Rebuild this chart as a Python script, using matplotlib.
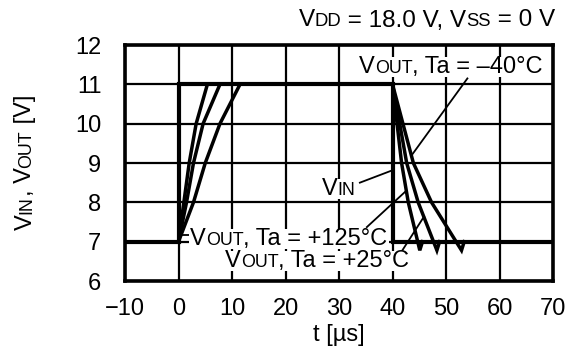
import matplotlib
matplotlib.use("Agg")
import matplotlib.pyplot as plt
from matplotlib.patches import Rectangle

plt.rcParams['font.family'] = ['Liberation Sans', 'DejaVu Sans']

# ---------------- data ----------------
vin_t = [-10, 0, 0, 40, 40, 70]
vin_v = [7, 7, 11, 11, 7, 7]

rise_v = [7, 8, 9, 10, 11]
rise_fast_t = [0, 1.0, 2.0, 3.3, 5.4]
rise_mid_t = [0, 1.5, 2.8, 4.6, 7.75]
rise_slow_t = [0, 2.8, 5.0, 7.75, 11.5]

fall_v = [11, 10, 9, 8, 6.78, 7.0]
fall_fast_t = [40, 40.85, 41.7, 42.95, 45.1, 45.6]
fall_mid_t = [40, 41.35, 42.65, 44.8, 48.3, 48.8]
fall_slow_t = [40, 41.95, 43.9, 47.3, 52.9, 53.4]

xticks = [-10, 0, 10, 20, 30, 40, 50, 60, 70]
xticklabels = ['\u221210', '0', '10', '20', '30', '40', '50', '60', '70']
yticks = [6, 7, 8, 9, 10, 11, 12]

# annotation leader lines (t, V)
lead_m40 = ([54.0, 43.6], [11.15, 9.2])
lead_vin = ([33.9, 39.7], [8.5, 8.8])
lead_125 = ([35.2, 42.3], [7.37, 8.26])
lead_125b = ([0.3, 2.1], [7.17, 7.17])
lead_25 = ([41.7, 45.9], [6.75, 7.64])

FS = 17
W, H = 584, 355
fig = plt.figure(figsize=(W / 100, H / 100), dpi=100)
ax = fig.add_axes([125 / W, 1 - 281 / H, (553 - 125) / W, (281 - 45) / H])

ax.set_xlim(-10, 70)
ax.set_ylim(6, 12)
ax.set_xticks(xticks)
ax.set_xticklabels(xticklabels)
ax.set_yticks(yticks)
ax.tick_params(length=0, labelsize=FS, colors='black')
ax.tick_params(axis='y', pad=17)
ax.tick_params(axis='x', pad=12)
ax.grid(True, color='black', linewidth=1.6)
ax.set_axisbelow(True)
for s in ax.spines.values():
    s.set_linewidth(2.6)
    s.set_zorder(5)

lw = 2.5
for tt in (rise_fast_t, rise_mid_t, rise_slow_t):
    ax.plot(tt, rise_v, color='black', lw=lw, solid_joinstyle='round', zorder=3)
for tt in (fall_fast_t, fall_mid_t, fall_slow_t):
    ax.plot(tt, fall_v, color='black', lw=lw, solid_joinstyle='miter', zorder=3)
ax.plot(vin_t, vin_v, color='black', lw=3.0, solid_joinstyle='miter', zorder=4)

for lx, ly in (lead_m40, lead_vin, lead_125, lead_125b, lead_25):
    ax.plot(lx, ly, color='black', lw=1.3, zorder=3)

ax.set_xlabel('t [\u00b5s]', fontsize=FS, labelpad=3)

renderer = fig.canvas.get_renderer()


def width_px(s, size):
    t1 = fig.text(0, 0, '|' + s + '|', fontsize=size)
    t2 = fig.text(0, 0, '||', fontsize=size)
    w = t1.get_window_extent(renderer).width - t2.get_window_extent(renderer).width
    t1.remove()
    t2.remove()
    return w


def rich(xpx, ypx, pieces, size=FS, ha='left', rotation=0, box=False):
    """xpx, ypx: pixel coords from top-left; baseline anchor."""
    widths = [width_px(s, size * sc) for s, sc in pieces]
    total = sum(widths)
    if ha == 'right':
        off = -total
    elif ha == 'center':
        off = -total / 2
    else:
        off = 0
    pos = off
    texts = []
    for (s, sc), w in zip(pieces, widths):
        if rotation == 90:
            x, y = xpx, ypx - pos
        else:
            x, y = xpx + pos, ypx
        t = fig.text(x / W, 1 - y / H, s, fontsize=size * sc, ha='left',
                     va='baseline', rotation=rotation, rotation_mode='anchor',
                     zorder=3)
        texts.append(t)
        pos += w
    if box:
        exts = [t.get_window_extent(renderer) for t in texts]
        x0 = min(e.x0 for e in exts) - 1
        x1 = max(e.x1 for e in exts) + 1
        y0 = min(e.y0 for e in exts) + 1
        y1 = max(e.y1 for e in exts) - 1
        fig.patches.append(Rectangle((x0 / W, y0 / H), (x1 - x0) / W, (y1 - y0) / H,
                                     transform=fig.transFigure, facecolor='white',
                                     edgecolor='none', zorder=2))


def data_px(t, v):
    d = ax.transData.transform((t, v))
    return d[0], H - d[1]


SC = 0.76
x, y = data_px(68.1, 11.28)
rich(x, y, [('V', 1), ('OUT', SC), (', Ta = \u201340\u00b0C', 1)], ha='right', box=True)
x, y = data_px(26.8, 8.19)
rich(x, y, [('V', 1), ('IN', SC)], box=True)
x, y = data_px(2.15, 6.92)
rich(x, y, [('V', 1), ('OUT', SC), (', Ta = +125\u00b0C', 1)], box=True)
x, y = data_px(8.7, 6.36)
rich(x, y, [('V', 1), ('OUT', SC), (', Ta = +25\u00b0C', 1)], box=True)

rich(555, 26.5, [('V', 1), ('DD', SC), (' = 18.0 V, V', 1), ('SS', SC), (' = 0 V', 1)],
     size=17.5, ha='right')

rich(31.5, 230, [('V', 1), ('IN', SC), (', V', 1), ('OUT', SC), (' [V]', 1)], rotation=90)

fig.savefig('out.png', dpi=100)
